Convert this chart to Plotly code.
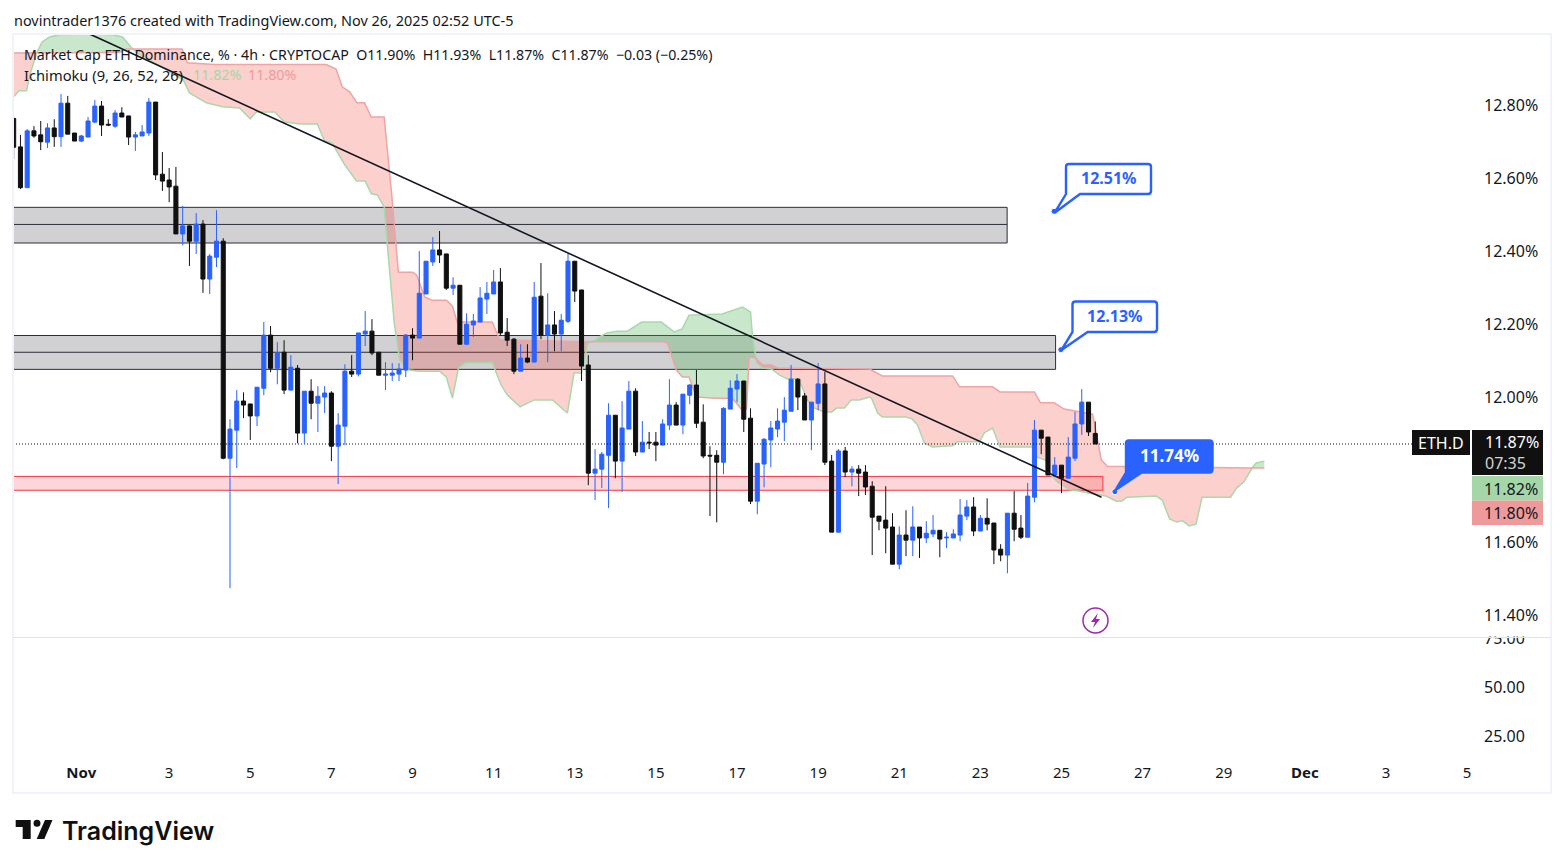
import pandas as pd
import plotly.graph_objects as go

FONT = "Noto Sans"
INK = "#131722"
BLUE = "#2962ff"
BLACK = "#101010"

# 4h bars, timestamps in UTC
opens = [12.765,12.687,12.575,12.731,12.720,12.700,12.739,12.715,12.807,12.725,
         12.703,12.714,12.755,12.799,12.749,12.744,12.780,12.772,12.714,12.717,
         12.725,12.810,12.612,12.596,12.579,12.448,12.470,12.428,12.475,12.324,
         12.384,12.428,11.832,11.909,11.989,11.981,11.948,12.024,12.170,12.079,
         12.123,12.019,12.079,11.901,12.016,11.983,12.000,12.011,11.865,11.920,
         12.071,12.063,12.173,12.181,12.123,12.060,12.060,12.063,12.074,12.170,
         12.162,12.283,12.371,12.404,12.393,12.299,12.307,12.145,12.198,12.206,
         12.269,12.283,12.316,12.178,12.159,12.071,12.107,12.096,12.277,12.170,
         12.198,12.173,12.208,12.373,12.294,12.088,11.791,11.802,11.840,11.950,
         11.824,11.912,12.016,11.849,11.876,11.876,11.868,11.923,11.978,11.923,
         12.005,12.033,11.931,11.840,11.840,11.821,11.967,12.022,12.044,11.942,
         11.714,11.816,11.882,11.912,11.931,11.961,12.049,12.003,11.937,11.983,
         12.036,11.824,11.629,11.852,11.794,11.802,11.794,11.755,11.673,11.662,
         11.643,11.541,11.621,11.607,11.643,11.613,11.624,11.634,11.613,11.613,
         11.621,11.673,11.698,11.632,11.667,11.654,11.582,11.566,11.681,11.640,
         11.615,11.725,11.909,11.890,11.786,11.813,11.777,11.832,11.926,11.986,
         11.900]
highs = [12.768,12.720,12.736,12.744,12.758,12.752,12.763,12.832,12.827,12.725,
         12.720,12.769,12.816,12.813,12.763,12.788,12.796,12.772,12.728,12.747,
         12.821,12.810,12.673,12.629,12.632,12.525,12.472,12.505,12.486,12.393,
         12.513,12.436,11.939,12.019,12.013,11.981,12.027,12.206,12.195,12.151,
         12.156,12.115,12.088,12.016,12.049,12.030,12.030,12.016,11.956,12.090,
         12.115,12.176,12.236,12.214,12.123,12.096,12.093,12.093,12.173,12.189,
         12.401,12.373,12.439,12.456,12.393,12.329,12.307,12.230,12.228,12.302,
         12.316,12.349,12.354,12.217,12.162,12.145,12.145,12.316,12.368,12.285,
         12.236,12.228,12.393,12.373,12.294,12.115,11.857,11.849,11.983,11.950,
         11.989,12.044,12.024,11.934,11.904,11.904,11.939,12.049,11.986,12.008,
         12.035,12.074,11.980,11.865,11.854,11.972,12.046,12.063,12.044,11.969,
         11.818,11.887,11.934,11.969,12.000,12.088,12.052,12.011,11.986,12.093,
         12.069,11.841,11.857,11.863,11.810,11.813,11.813,11.769,11.673,11.755,
         11.681,11.645,11.689,11.700,11.643,11.659,11.676,11.634,11.629,11.637,
         11.720,11.717,11.725,11.676,11.722,11.654,11.596,11.681,11.742,11.676,
         11.764,11.937,11.909,11.890,11.835,11.813,11.890,11.959,12.022,11.986,
         11.933]
lows = [12.654,12.571,12.575,12.712,12.678,12.684,12.687,12.687,12.722,12.703,
        12.700,12.714,12.752,12.717,12.744,12.739,12.769,12.692,12.676,12.717,
        12.717,12.596,12.566,12.535,12.448,12.417,12.360,12.393,12.286,12.283,
        12.357,11.829,11.475,11.805,11.942,11.882,11.920,12.005,12.068,12.035,
        12.008,12.019,11.873,11.873,11.939,11.904,11.956,11.824,11.761,11.868,
        12.055,12.057,12.140,12.115,12.060,12.019,12.044,12.044,12.055,12.101,
        12.162,12.283,12.360,12.368,12.294,12.280,12.145,12.145,12.165,12.206,
        12.228,12.283,12.170,12.140,12.063,12.071,12.093,12.096,12.159,12.096,
        12.126,12.126,12.203,12.261,12.044,11.758,11.717,11.750,11.695,11.777,
        11.739,11.912,11.838,11.849,11.857,11.824,11.868,11.909,11.923,11.898,
        11.980,11.915,11.832,11.673,11.656,11.788,11.967,11.986,11.904,11.706,
        11.678,11.752,11.807,11.890,11.879,11.961,11.964,11.937,11.854,11.964,
        11.813,11.629,11.629,11.780,11.755,11.728,11.731,11.566,11.634,11.571,
        11.541,11.527,11.563,11.563,11.558,11.599,11.615,11.560,11.585,11.613,
        11.604,11.662,11.618,11.632,11.634,11.541,11.549,11.516,11.604,11.610,
        11.615,11.711,11.843,11.786,11.786,11.736,11.777,11.824,11.896,11.893,
        11.871]
closes = [12.686,12.575,12.731,12.717,12.701,12.739,12.715,12.807,12.722,12.703,
          12.717,12.758,12.799,12.747,12.747,12.780,12.769,12.714,12.720,12.728,
          12.810,12.610,12.593,12.577,12.448,12.470,12.428,12.475,12.324,12.387,
          12.428,11.832,11.912,11.989,11.978,11.948,12.027,12.170,12.079,12.121,
          12.019,12.082,11.901,12.016,11.983,12.002,12.011,11.865,11.923,12.071,
          12.063,12.176,12.181,12.121,12.060,12.063,12.066,12.077,12.170,12.162,
          12.285,12.373,12.404,12.390,12.299,12.307,12.145,12.200,12.209,12.272,
          12.285,12.316,12.176,12.156,12.071,12.107,12.096,12.274,12.170,12.198,
          12.173,12.211,12.373,12.291,12.085,11.791,11.802,11.843,11.950,11.824,
          11.915,12.016,11.849,11.876,11.874,11.868,11.926,11.978,11.923,12.008,
          12.033,11.928,11.838,11.838,11.821,11.969,12.024,12.044,11.939,11.714,
          11.818,11.884,11.915,11.934,11.964,12.049,12.000,11.937,11.986,12.036,
          11.821,11.629,11.852,11.794,11.802,11.791,11.753,11.670,11.659,11.640,
          11.541,11.621,11.607,11.643,11.613,11.626,11.634,11.610,11.615,11.624,
          11.676,11.698,11.632,11.667,11.651,11.580,11.566,11.681,11.637,11.615,
          11.728,11.909,11.887,11.786,11.813,11.777,11.835,11.926,11.986,11.904,
          11.871]

# ichimoku cloud edges, as (bar number, value); the crossings are in both lists
span_a_bar = [-0.2,0.8,1.9,2.4,3.4,4.2,5.3,6.8,10.8,14.6,16.1,17.1,17.6,18.3,22.0,25.1,26.0,28.5,30.9,33.4,
              35.0,35.9,38.6,40.0,42.3,44.9,46.0,47.1,48.9,50.7,52.0,52.9,53.8,54.8,55.3,56.3,57.1,58.5,60.0,63.0,
              64.0,64.9,65.8,66.8,70.8,72.1,73.0,74.9,77.0,79.7,81.9,82.9,84.0,84.9,85.2,85.9,86.6,87.8,89.2,90.8,
              92.9,95.8,97.7,98.9,99.9,104.8,107.8,109.0,109.3,109.7,109.9,110.8,112.1,113.3,114.4,115.9,116.5,117.4,118.4,119.9,
              121.0,121.8,122.9,123.9,125.1,126.6,126.9,127.8,128.5,132.0,132.9,133.7,134.7,135.9,138.9,139.6,142.9,143.6,144.8,145.9,
              150.7,151.4,152.6,153.2,154.4,156.2,157.6,159.1,160.6,161.6,163.1,163.9,164.7,169.0,169.9,171.0,172.0,172.9,173.9,174.9,
              175.8,180.0,180.9,182.0,183.2,183.8,185.0]
span_a = [12.821,12.841,12.841,12.885,12.945,12.975,12.989,12.995,12.997,12.995,12.989,12.967,12.956,12.945,12.904,12.871,12.835,12.808,12.797,12.794,
          12.764,12.783,12.783,12.756,12.750,12.750,12.703,12.698,12.640,12.593,12.593,12.558,12.555,12.522,12.412,12.203,12.102,12.074,12.071,12.071,
          12.055,11.997,12.080,12.094,12.094,12.033,12.006,11.973,11.992,11.992,11.956,12.066,12.066,12.146,12.152,12.154,12.165,12.176,12.181,12.181,
          12.206,12.206,12.179,12.187,12.225,12.228,12.247,12.234,12.165,12.108,12.094,12.080,12.077,12.060,12.050,12.050,12.033,11.992,11.970,11.959,
          11.959,11.970,11.970,11.992,11.992,12.000,11.997,11.956,11.945,11.945,11.940,11.923,11.874,11.863,11.866,11.877,11.877,11.902,11.915,11.863,
          11.863,11.835,11.827,11.791,11.767,11.745,11.742,11.736,11.731,11.728,11.714,11.714,11.725,11.728,11.717,11.665,11.657,11.660,11.646,11.651,
          11.725,11.725,11.750,11.767,11.805,11.819,11.824]
span_b_bar = [-0.2,3.4,15.6,16.7,17.6,24.9,25.7,29.7,46.2,47.7,48.6,49.7,50.8,51.9,52.9,54.8,55.9,56.9,59.0,59.6,
              60.8,61.9,64.0,64.9,65.6,70.8,71.9,85.2,95.9,96.7,98.0,98.9,99.9,101.0,103.9,106.3,107.6,108.4,108.8,109.7,
              110.8,112.1,113.0,126.6,128.5,138.9,139.9,144.8,145.9,151.0,151.9,153.9,155.4,158.1,159.6,160.9,161.8,183.2,185.0]
span_b = [12.945,12.945,12.946,12.956,12.956,12.956,12.918,12.913,12.913,12.901,12.852,12.838,12.808,12.808,12.769,12.769,12.560,12.343,12.343,12.335,
          12.275,12.266,12.266,12.250,12.206,12.206,12.157,12.152,12.152,12.149,12.075,12.055,12.055,12.000,11.997,11.997,11.967,11.967,12.110,12.108,
          12.088,12.088,12.080,12.077,12.058,12.058,12.028,12.028,12.014,12.014,11.984,11.984,11.967,11.959,11.953,11.827,11.810,11.805,11.805]
cloud_cross = [-0.2, 3.4, 17.6, 85.2, 109.7, 183.2, 185.0]
cloud_colors = ["red", "green", "red", "green", "red", "green"]

last_price = 11.871
zone_upper = [12.521, 12.474, 12.423]
zone_lower = [12.169, 12.123, 12.076]
zone_red = [11.782, 11.744]
zone_start = "2025-10-25 00:00"
zone_upper_end = "2025-11-23 23:50"
zone_lower_end = "2025-11-25 04:30"
zone_red_end = "2025-11-26 08:30"
trend_t = ["2025-11-01 08:54", "2025-11-26 07:40"]
trend_y = [12.997, 11.725]
target_bar = [153.9, 154.9, 162.9]
target_y = [12.51, 12.13, 11.74]
target_txt = ["12.51%", "12.13%", "11.74%"]

# 11.80 sits behind the last price tag, its text is the tag below
price_ticks = [11.4, 11.6, 12.0, 12.2, 12.4, 12.6, 12.8]
price_labels = ["11.40%", "11.60%", "12.00%", "12.20%", "12.40%", "12.60%", "12.80%"]
lower_ticks = [25, 50, 75]
lower_labels = ["25.00", "50.00", "75.00"]
day_ticks = ["2025-11-01 04:00", "2025-11-03 08:00", "2025-11-05 08:00", "2025-11-07 08:00", "2025-11-09 08:00",
             "2025-11-11 08:00", "2025-11-13 08:00", "2025-11-15 08:00", "2025-11-17 08:00", "2025-11-19 08:00",
             "2025-11-21 08:00", "2025-11-23 08:00", "2025-11-25 08:00", "2025-11-27 08:00", "2025-11-29 08:00",
             "2025-12-01 08:00", "2025-12-03 08:00", "2025-12-05 08:00"]
day_labels = ["<b>Nov</b>", "3", "5", "7", "9", "11", "13", "15", "17", "19", "21", "23", "25", "27", "29",
              "<b>Dec</b>", "3", "5"]

W, H = 1564, 868
PANE_L, PANE_R = 13, 1472
MAIN_T, MAIN_B, LOW_B = 34, 637, 756
X_RANGE = ["2025-10-30 11:36", "2025-12-05 10:54"]
Y_RANGE = [11.341, 12.997]


def fx(px):
    return px / W


def fy(py):
    return 1 - py / H


first_bar = pd.Timestamp("2025-10-30 12:00")
bar_times = pd.date_range(first_bar, periods=len(closes), freq="4h")


def bar_time(n):
    return first_bar + pd.Timedelta(hours=4 * n)


fig = go.Figure()

# cloud fill, one polygon per stretch between crossings
for k, color in enumerate(cloud_colors):
    lo, hi = cloud_cross[k], cloud_cross[k + 1]
    a = [(b, v) for b, v in zip(span_a_bar, span_a) if lo <= b <= hi]
    b_pts = [(b, v) for b, v in zip(span_b_bar, span_b) if lo <= b <= hi]
    pts = a + b_pts[::-1]
    fig.add_trace(go.Scatter(
        x=[bar_time(p[0]) for p in pts], y=[p[1] for p in pts],
        mode="lines", fill="toself", line=dict(width=0),
        fillcolor="rgba(244,67,54,0.25)" if color == "red" else "rgba(76,175,80,0.3)",
        hoverinfo="skip"))

fig.add_trace(go.Scatter(x=[bar_time(b) for b in span_a_bar], y=span_a, mode="lines",
                         line=dict(color="#a9d8ab", width=1.5), hoverinfo="skip"))
fig.add_trace(go.Scatter(x=[bar_time(b) for b in span_b_bar], y=span_b, mode="lines",
                         line=dict(color="#f2a3a3", width=1.5), hoverinfo="skip"))

# scatter always draws over candles in one subplot, so candles get an overlaid one
fig.add_trace(go.Candlestick(
    x=bar_times, open=opens, high=highs, low=lows, close=closes,
    increasing=dict(line=dict(color=BLUE, width=1), fillcolor=BLUE),
    decreasing=dict(line=dict(color=BLACK, width=1), fillcolor=BLACK),
    whiskerwidth=0, xaxis="x3", yaxis="y3"))

fig.add_trace(go.Scatter(x=trend_t, y=trend_y, mode="lines", xaxis="x3", yaxis="y3",
                         line=dict(color="#131722", width=1.6), hoverinfo="skip"))
fig.add_trace(go.Scatter(x=[bar_time(b) for b in target_bar], y=target_y, mode="markers", xaxis="x3", yaxis="y3",
                         marker=dict(color=BLUE, size=6, line=dict(color="white", width=1)),
                         hoverinfo="skip"))
# lower pane has no marks, only its scale
fig.add_trace(go.Scatter(x=[], y=[], xaxis="x2", yaxis="y2", hoverinfo="skip"))

shapes = []


def zone(y_vals, x1, fill, edge):
    shapes.append(dict(type="rect", xref="x", yref="y", x0=zone_start, x1=x1, y0=y_vals[0], y1=y_vals[-1],
                       fillcolor=fill, line=dict(color=edge, width=1), layer="below"))
    if len(y_vals) == 3:
        shapes.append(dict(type="line", xref="x", yref="y", x0=zone_start, x1=x1, y0=y_vals[1], y1=y_vals[1],
                           line=dict(color=edge, width=1), layer="below"))


zone(zone_upper, zone_upper_end, "#d1d1d4", "#2a2e39")
zone(zone_lower, zone_lower_end, "#d1d1d4", "#2a2e39")
zone(zone_red, zone_red_end, "rgba(242,54,69,0.2)", "#f23645")

# dotted last price line runs up to the ticker tag
shapes.append(dict(type="line", xref="paper", yref="y", x0=fx(PANE_L), x1=fx(1412), y0=last_price, y1=last_price,
                   line=dict(color=BLACK, width=1, dash="1px,2px")))


def callout(l, t, r, b, tip, base0, base1, fill):
    rad = 3
    d = "M%f,%f L%f,%f " % (fx(l + rad), fy(t), fx(r - rad), fy(t))
    d += "Q%f,%f %f,%f " % (fx(r), fy(t), fx(r), fy(t + rad))
    d += "L%f,%f " % (fx(r), fy(b - rad))
    d += "Q%f,%f %f,%f " % (fx(r), fy(b), fx(r - rad), fy(b))
    d += "L%f,%f L%f,%f L%f,%f " % (fx(base1), fy(b), fx(tip[0]), fy(tip[1]), fx(base0), fy(b))
    d += "L%f,%f " % (fx(l), fy(t + rad))
    d += "Q%f,%f %f,%f Z" % (fx(l), fy(t), fx(l + rad), fy(t))
    shapes.append(dict(type="path", xref="paper", yref="paper", path=d, fillcolor=fill,
                       line=dict(color=BLUE, width=2.4), layer="above"))


callout(1066, 164, 1151, 194, (1054.7, 212.7), 1066, 1080, "white")
callout(1072.5, 301.5, 1157, 332, (1061.5, 350), 1072.5, 1087.6, "white")
callout(1126, 440.5, 1212.5, 472.5, (1115.5, 490), 1126, 1141.6, BLUE)


def box(l, t, r, b, fill, layer="above"):
    shapes.append(dict(type="rect", xref="paper", yref="paper", x0=fx(l), x1=fx(r), y0=fy(b), y1=fy(t),
                       fillcolor=fill, line=dict(width=0), layer=layer))


# price scale tags
box(1412, 430, 1470, 455, BLACK)
box(1472, 430, 1543, 475, BLACK)
box(1472, 476, 1543, 500.5, "#a5d6a7")
box(1472, 500.5, 1543, 525, "#ef9a9a")
# the pane above cuts the top of the lower scale's first label
box(1473, 622, 1549, 636.5, "white")

# frame and pane divider
shapes.append(dict(type="rect", xref="paper", yref="paper", x0=fx(13), x1=fx(1551), y0=fy(793), y1=fy(34),
                   line=dict(color="#f0f3fa", width=2), layer="above"))
shapes.append(dict(type="line", xref="paper", yref="paper", x0=fx(13), x1=fx(1551), y0=fy(637.5), y1=fy(637.5),
                   line=dict(color="#e0e3eb", width=1), layer="above"))

# lightning mark
shapes.append(dict(type="circle", xref="paper", yref="paper", x0=fx(1083), x1=fx(1108), y0=fy(633), y1=fy(608),
                   line=dict(color="#9c27b0", width=1.5), fillcolor="white", layer="above"))
bolt = [(1098, 613), (1091, 622), (1095, 622), (1093, 628), (1100, 619), (1096, 619)]
shapes.append(dict(type="path", xref="paper", yref="paper",
                   path="M" + " L".join("%f,%f" % (fx(a), fy(b)) for a, b in bolt) + " Z",
                   fillcolor="#9c27b0", line=dict(width=0), layer="above"))

# logo mark
logo_t = [(15.7, 820), (30.7, 820), (30.7, 839), (22.7, 839), (22.7, 827), (15.7, 827)]
logo_s = [(45, 820), (52.5, 820), (44.3, 839), (36.7, 839)]
for pts in (logo_t, logo_s):
    shapes.append(dict(type="path", xref="paper", yref="paper",
                       path="M" + " L".join("%f,%f" % (fx(a), fy(b)) for a, b in pts) + " Z",
                       fillcolor=BLACK, line=dict(width=0), layer="above"))
shapes.append(dict(type="circle", xref="paper", yref="paper", x0=fx(33.5), x1=fx(40.5), y0=fy(826.7), y1=fy(819.7),
                   fillcolor=BLACK, line=dict(width=0), layer="above"))

annotations = []


def label(px, py, text, size=14, color=INK, anchor="left", weight=None, family=FONT, align="center"):
    annotations.append(dict(xref="paper", yref="paper", x=fx(px), y=fy(py), text=text, showarrow=False,
                            xanchor=anchor, yanchor="middle", borderpad=0, align=align,
                            font=dict(family=family, size=size, color=color, weight=weight)))


label(13, 20, "novintrader1376 created with TradingView.com, Nov 26, 2025 02:52 UTC-5", 14.45)
label(23, 54, "Market Cap ETH Dominance, % · 4h · CRYPTOCAP&nbsp;&nbsp;O11.90%&nbsp;&nbsp;H11.93%&nbsp;&nbsp;L11.87%&nbsp;&nbsp;"
              "C11.87%&nbsp;&nbsp;−0.03 (−0.25%)", 14.2)
label(23, 75, "Ichimoku (9, 26, 52, 26)", 14.7)
label(192, 75, "11.82%", 14.3, "#a5d6a7")
label(247, 75, "11.80%", 14.3, "#ef9a9a")

label(1108.5, 178, target_txt[0], 16, BLUE, "center", 700)
label(1115, 316, target_txt[1], 16, BLUE, "center", 700)
label(1169.5, 456, target_txt[2], 17, "white", "center", 700)

label(1441, 442.5, "ETH.D", 16, "white", "center")
label(1484, 452.5, "11.87%<br><span style='color:#d4d4d4'>07:35</span>", 16, "white", "left", align="left")
label(1511, 489, "11.82%", 16, INK, "center")
label(1511, 513, "11.80%", 16, INK, "center")

label(61, 831, "TradingView", 25, BLACK, "left", 600, "Inter")

layout = go.Layout(
    width=W, height=H,
    margin=dict(l=0, r=0, t=0, b=0),
    paper_bgcolor="white", plot_bgcolor="white",
    showlegend=False,
    boxgap=0.4, boxgroupgap=0,
    shapes=shapes, annotations=annotations,
    font=dict(family=FONT, size=16, color=INK),
    xaxis=dict(type="date", domain=[fx(PANE_L), fx(PANE_R)], range=X_RANGE, automargin=False,
               anchor="y", showgrid=False, zeroline=False, showticklabels=False, ticks="",
               rangeslider=dict(visible=False)),
    yaxis=dict(domain=[fy(MAIN_B), fy(MAIN_T)], range=Y_RANGE, anchor="x", side="right", automargin=False,
               tickvals=price_ticks, ticktext=price_labels, ticks="", ticklabelstandoff=11,
               showgrid=False, zeroline=False, showline=False, tickfont=dict(size=16, color=INK)),
    xaxis2=dict(type="date", domain=[fx(PANE_L), fx(PANE_R)], range=X_RANGE, anchor="y2", automargin=False,
                tickvals=day_ticks, ticktext=day_labels, tickangle=0, ticks="", ticklabelstandoff=6,
                showgrid=False, zeroline=False, tickfont=dict(size=15, color=INK)),
    yaxis2=dict(domain=[fy(LOW_B), fy(MAIN_B + 0.5)], range=[14.8, 75.25], anchor="x2", side="right", automargin=False,
                tickvals=lower_ticks, ticktext=lower_labels, ticks="", ticklabelstandoff=11,
                showgrid=False, zeroline=False, showline=False, tickfont=dict(size=16, color=INK)),
    xaxis3=dict(type="date", domain=[fx(PANE_L), fx(PANE_R)], range=X_RANGE, overlaying="x", anchor="y3",
                visible=False, automargin=False, rangeslider=dict(visible=False)),
    yaxis3=dict(range=Y_RANGE, overlaying="y", anchor="x3", side="right", visible=False, automargin=False),
)
fig.update_layout(layout)

fig.write_html("out.html", config=dict(displayModeBar=False), post_script="document.body.style.margin='0';")
